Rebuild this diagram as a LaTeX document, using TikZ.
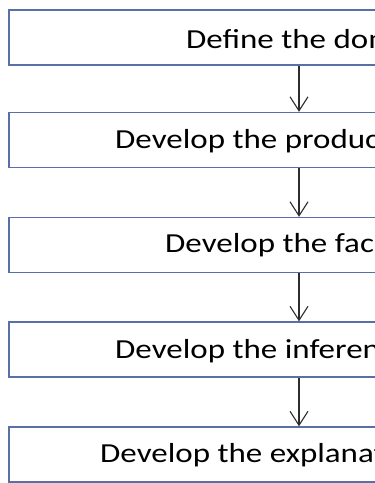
\documentclass[tikz,border=0pt]{standalone}
\usepackage{fontspec}
\setmainfont{Carlito}
\usetikzlibrary{arrows.meta}
\definecolor{boxline}{RGB}{88,112,166}
\definecolor{arrowline}{RGB}{45,45,45}
\tikzset{
  stepbox/.style={draw=boxline, line width=1.4pt, rectangle, minimum width=580pt, minimum height=55pt, inner sep=0pt},
  steptext/.style={anchor=base west, inner sep=0pt, text=black, font=\fontsize{27.5pt}{30pt}\selectfont},
  flow/.style={draw=arrowline, line width=1.1pt, -{Straight Barb[length=14pt,width=18pt,line width=1.1pt]}}
}
\newcommand{\wide}[1]{\scalebox{1.2}[1]{#1}}
\begin{document}
\begin{tikzpicture}[x=1pt,y=-1pt]
\useasboundingbox (0,0) rectangle (375,483);
\clip (0,0) rectangle (375,483);
\node[stepbox] (b1) at (299,37.5) {};
\node[stepbox] (b2) at (299,140) {};
\node[stepbox] (b3) at (299,245) {};
\node[stepbox] (b4) at (299,349.5) {};
\node[stepbox] (b5) at (299,454.5) {};
\node[steptext] (t1) at (186,48) {\wide{Define the dom}};
\node[steptext] (t2) at (115,148) {\wide{Develop the produc}};
\node[steptext] (t3) at (165,252) {\wide{Develop the fac}};
\node[steptext] (t4) at (115,358) {\wide{Develop the inferen}};
\node[steptext] (t5) at (100,462) {\wide{Develop the explanat}};
\draw[flow] (b1.south) -- (b2.north);
\draw[flow] (b2.south) -- (b3.north);
\draw[flow] (b3.south) -- (b4.north);
\draw[flow] (b4.south) -- (b5.north);
\end{tikzpicture}
\end{document}
